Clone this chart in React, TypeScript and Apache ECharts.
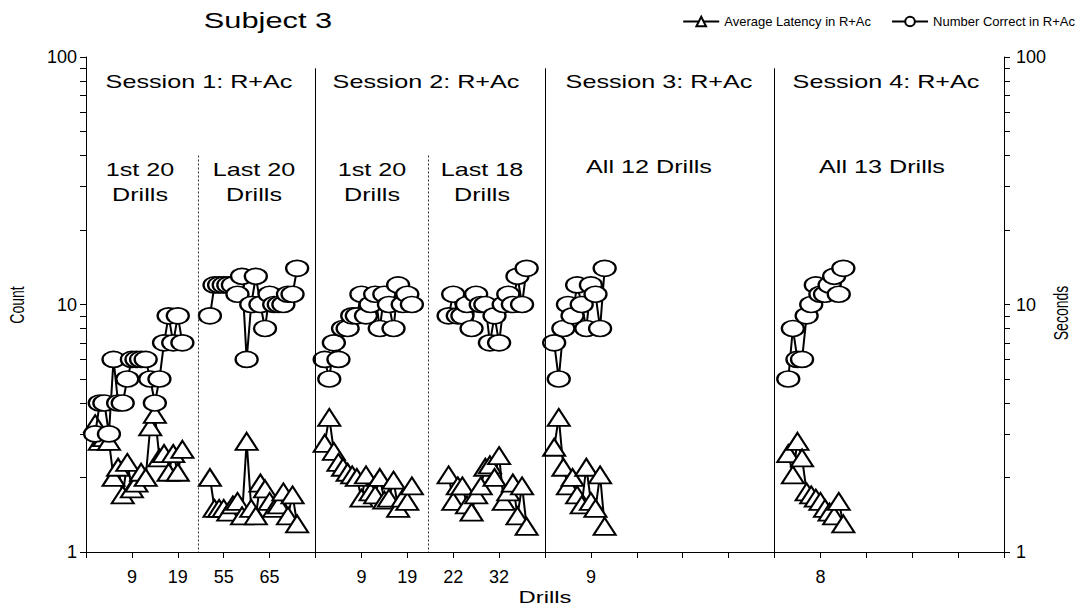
import { useEffect, useRef } from "react";
import * as echarts from "echarts";

const PAGE_W = 1078;
const PAGE_H = 607;
// the panel captions are drawn wide, in the style of the original plot
const WIDE = 1.4;

const FONT = '"Liberation Sans", Arial, Helvetica, sans-serif';

const LATENCY_NAME = "Average Latency in R+Ac";
const CORRECT_NAME = "Number Correct in R+Ac";

// x axis: ten drills per axis unit
const DRILL_STEP = 0.1;
const tickPositions = [1, 2, 3, 4, 6, 7, 8, 9, 11, 16];
const tickLabels = ["9", "19", "55", "65", "9", "19", "22", "32", "9", "8"];
const sessionBreaks = [5, 10, 15];
const blockBreaks = [2.45, 7.45];

// first drill position of each block
const segmentStarts = [0.2, 2.7, 5.2, 7.9, 10.2, 15.3];

// Session 1: first 20 drills, last 20 drills
const correctS1First = [3, 4, 4, 3, 6, 4, 4, 5, 6, 6, 6, 6, 5, 4, 5, 7, 9, 7, 9, 7];
const latencyS1First = [3.3, 2.8, 2.9, 2.8, 2.0, 2.2, 1.7, 2.3, 1.8, 1.9, 2.1, 2.0, 3.2, 3.6, 2.4, 2.5, 2.1, 2.5, 2.1, 2.6];
const correctS1Last = [9, 12, 12, 12, 12, 12, 11, 13, 6, 10, 13, 10, 8, 11, 10, 10, 10, 11, 11, 14];
const latencyS1Last = [2.0, 1.5, 1.5, 1.5, 1.45, 1.55, 1.6, 1.4, 2.8, 1.5, 1.4, 1.9, 1.8, 1.6, 1.5, 1.55, 1.75, 1.4, 1.7, 1.3];

// Session 2: first 20 drills, last 18 drills
const correctS2First = [6, 5, 7, 6, 8, 8, 9, 9, 11, 9, 10, 11, 8, 11, 10, 8, 12, 10, 11, 10];
const latencyS2First = [2.75, 3.5, 2.55, 2.3, 2.2, 2.1, 2.05, 2.0, 1.65, 2.05, 1.75, 1.7, 2.0, 1.62, 1.65, 1.95, 1.5, 1.65, 1.6, 1.85];
const correctS2Last = [9, 11, 9, 9, 10, 8, 11, 10, 10, 7, 9, 7, 10, 11, 10, 13, 10, 14];
const latencyS2Last = [2.05, 1.6, 1.85, 1.85, 1.55, 1.45, 1.7, 1.85, 2.2, 2.25, 2.0, 2.45, 1.6, 1.75, 1.9, 1.4, 1.85, 1.27];

// Session 3: 12 drills; Session 4: 13 drills
const correctS3 = [7, 5, 8, 10, 9, 12, 10, 8, 12, 11, 8, 14];
const latencyS3 = [2.65, 3.5, 2.2, 1.85, 2.0, 1.7, 1.55, 2.2, 1.6, 1.5, 2.05, 1.27];
const correctS4 = [5, 8, 6, 6, 9, 10, 12, 11, 11, 12, 13, 11, 14];
const latencyS4 = [2.5, 2.05, 2.8, 2.4, 1.75, 1.7, 1.65, 1.6, 1.5, 1.45, 1.4, 1.6, 1.3];

const correctBySegment = [correctS1First, correctS1Last, correctS2First, correctS2Last, correctS3, correctS4];
const latencyBySegment = [latencyS1First, latencyS1Last, latencyS2First, latencyS2Last, latencyS3, latencyS4];

const sessionTitles = ["Session 1: R+Ac", "Session 2: R+Ac", "Session 3: R+Ac", "Session 4: R+Ac"];
const blockTitles = ["1st 20\nDrills", "Last 20\nDrills", "1st 20\nDrills", "Last 18\nDrills", "All 12 Drills", "All 13 Drills"];

// minor ticks of the log axes (2..9 in each decade)
const logMinorValues = [2, 3, 4, 5, 6, 7, 8, 9, 20, 30, 40, 50, 60, 70, 80, 90];

const toPoints = (start: number, values: number[]) =>
  values.map((v, i) => [Math.round((start + i * DRILL_STEP) * 100) / 100, v]);

const labelAt = new Map<number, string>(tickPositions.map((t, i) => [t, tickLabels[i]]));

const SESSION_LINE_TOP = 90;
const BLOCK_LINE_TOP = 40;

// an ellipse outline, stretched to the symbol size
const ELLIPSE = "path://M0 1A1 1 0 1 0 2 1A1 1 0 1 0 0 1Z";

function buildOption() {
  const lineStyle = { color: "#000", width: 2 };
  const itemStyle = { color: "#fff", borderColor: "#000", borderWidth: 2, opacity: 1 };

  const series: any[] = [];
  segmentStarts.forEach((start, s) => {
    series.push({
      type: "line",
      name: LATENCY_NAME,
      yAxisIndex: 1,
      data: toPoints(start, latencyBySegment[s]),
      symbol: "triangle",
      symbolSize: [22, 17],
      showAllSymbol: true,
      lineStyle,
      itemStyle,
      emphasis: { disabled: true },
      z: 2,
    });
  });
  segmentStarts.forEach((start, s) => {
    series.push({
      type: "line",
      name: CORRECT_NAME,
      yAxisIndex: 0,
      data: toPoints(start, correctBySegment[s]),
      symbol: ELLIPSE,
      symbolSize: [22, 16],
      showAllSymbol: true,
      lineStyle,
      itemStyle,
      emphasis: { disabled: true },
      z: 3,
    });
  });

  // session and block dividers
  series[0].markLine = {
    silent: true,
    symbol: ["none", "none"],
    label: { show: false },
    emphasis: { disabled: true },
    data: [
      ...sessionBreaks.map((x) => [
        { coord: [x, SESSION_LINE_TOP], lineStyle: { color: "#000", width: 1, type: "solid" } },
        { coord: [x, 1] },
      ]),
      ...blockBreaks.map((x) => [
        { coord: [x, BLOCK_LINE_TOP], lineStyle: { color: "#333", width: 1, type: [2, 2] } },
        { coord: [x, 1] },
      ]),
    ],
  };

  const logAxis = (position: "left" | "right", margin: number) => ({
    type: "log",
    logBase: 10,
    min: 1,
    max: 100,
    position,
    axisLine: { show: true, onZero: false, lineStyle: { color: "#000", width: 1 } },
    axisTick: { show: true, length: 6, lineStyle: { color: "#000", width: 1 } },
    axisLabel: { margin, fontFamily: FONT, fontSize: 18, color: "#000" },
    splitLine: { show: false },
  });

  // tick-only axes carrying the 2..9 marks of each decade
  const minorTickAxis = (position: "left" | "right") => ({
    type: "value",
    min: 0,
    max: 2,
    position,
    axisLine: { show: false },
    axisLabel: { show: false },
    splitLine: { show: false },
    axisTick: {
      show: true,
      length: 6,
      customValues: logMinorValues.map((v) => Math.log10(v)),
      lineStyle: { color: "#000", width: 1 },
    },
  });

  const font = (size: number) => `${size}px ${FONT}`;
  const wideText = (text: string, x: number, y: number, size: number, extra: any = {}) => ({
    type: "text",
    x,
    y,
    silent: true,
    scaleX: WIDE,
    ...extra,
    style: {
      text,
      font: font(size),
      fill: "#000",
      align: "center",
      verticalAlign: "middle",
      lineHeight: 25,
    },
  });

  const graphic: any[] = [];
  graphic.push(wideText("Subject 3", 268, 21, 22));
  const sessionCenters = [199, 426, 659, 886];
  sessionTitles.forEach((t, i) => graphic.push(wideText(t, sessionCenters[i], 82, 18)));
  const blockCenters = [140, 254, 372, 482, 649, 882];
  const blockY = [182, 182, 182, 182, 167, 167];
  blockTitles.forEach((t, i) => graphic.push(wideText(t, blockCenters[i], blockY[i], 18)));
  // axis titles
  graphic.push(wideText("Drills", 545, 597, 17));
  graphic.push({ ...wideText("Count", 18, 305, 14), scaleX: 1, scaleY: WIDE, rotation: Math.PI / 2 });
  graphic.push({ ...wideText("Seconds", 1062, 313, 14), scaleX: 1, scaleY: WIDE, rotation: Math.PI / 2 });

  return {
    animation: false,
    backgroundColor: "#fff",
    textStyle: { fontFamily: FONT, color: "#000" },
    legend: {
      data: [LATENCY_NAME, CORRECT_NAME],
      orient: "horizontal",
      right: 3,
      top: 15,
      padding: 0,
      itemWidth: 36,
      itemHeight: 12,
      itemGap: 20,
      selectedMode: false,
      textStyle: { fontFamily: FONT, fontSize: 13, color: "#000" },
    },
    grid: { left: 86, right: 74, top: 57, bottom: 55, outerBoundsMode: "none" },
    xAxis: {
      type: "value",
      min: 0,
      max: 20,
      interval: 1,
      axisLine: { show: true, onZero: false, lineStyle: { color: "#000", width: 1 } },
      axisTick: { show: true, length: 6, lineStyle: { color: "#000", width: 1 } },
      axisLabel: {
        margin: 16,
        fontFamily: FONT,
        fontSize: 18,
        color: "#000",
        showMinLabel: true,
        showMaxLabel: true,
        formatter: (v: number) => labelAt.get(Math.round(v)) ?? "",
      },
      splitLine: { show: false },
    },
    yAxis: [logAxis("left", 9), logAxis("right", 12), minorTickAxis("left"), minorTickAxis("right")],
    series,
    graphic,
  };
}

export default function App() {
  const ref = useRef<HTMLDivElement>(null);

  useEffect(() => {
    if (!ref.current) return;
    const chart = echarts.init(ref.current, undefined, { renderer: "svg" });
    chart.setOption(buildOption() as any);
    return () => chart.dispose();
  }, []);

  return (
    <div
      ref={ref}
      style={{
        position: "absolute",
        left: 0,
        top: 0,
        width: PAGE_W,
        height: PAGE_H,
        background: "#fff",
      }}
    />
  );
}
